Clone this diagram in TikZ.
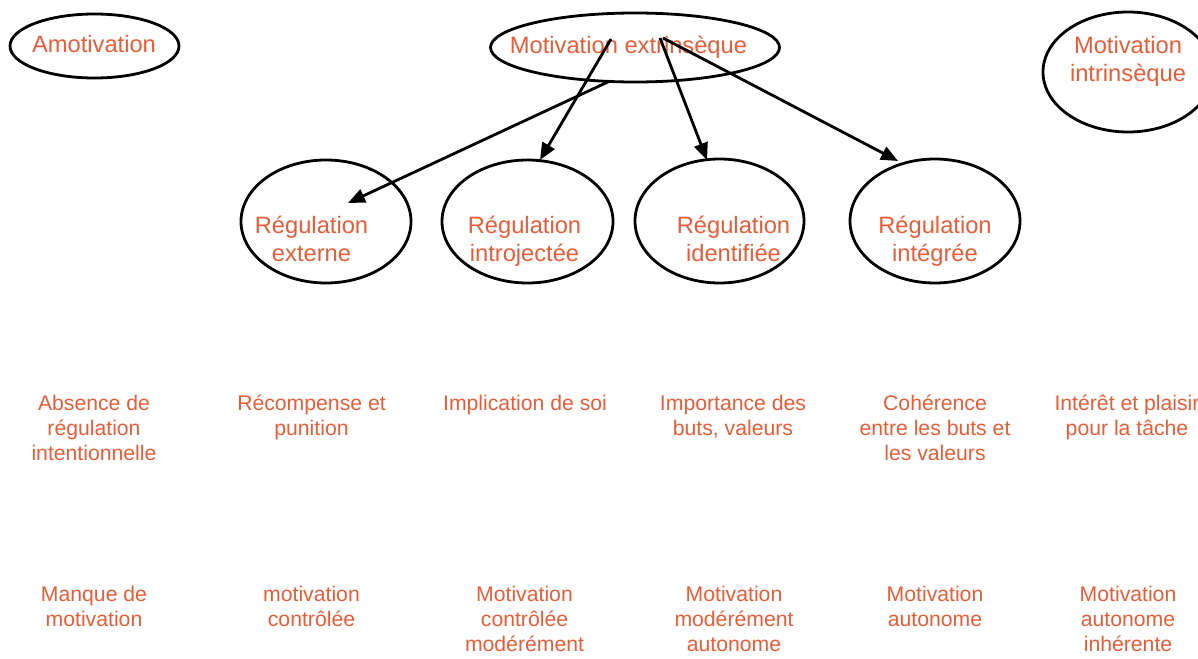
\documentclass[tikz,border=0pt]{standalone}
\usepackage{fontspec}
\setmainfont{Liberation Sans}
\usetikzlibrary{shapes.geometric,arrows.meta}
\definecolor{labelorange}{RGB}{232,93,56}
% stacked, centred lines whose baseline is that of the first line
\newcommand{\stacklines}[1]{\begin{tabular}[t]{@{}c@{}}#1\end{tabular}}
\begin{document}
\begin{tikzpicture}[x=1pt,y=-1pt,
  oval/.style={draw=black,line width=2.8pt,ellipse,inner sep=0pt},
  ovaltext/.style={text=labelorange,inner sep=0pt,anchor=base,
    font=\fontsize{23.7}{28.4}\selectfont},
  rowtext/.style={text=labelorange,inner sep=0pt,anchor=base,
    font=\fontsize{21.2}{25.3}\selectfont},
  link/.style={draw=black,line width=2.8pt,-{Triangle[length=17pt,width=14pt]}}]
\useasboundingbox (0,0) rectangle (1198,658);
\clip (0,0) rectangle (1198,658);

% top-level ovals
\node[oval,minimum width=169pt,minimum height=64pt] (amo) at (94.5,46) {};
\node[oval,minimum width=289pt,minimum height=69pt] (ext) at (635,47.5) {};
\node[oval,minimum width=170pt,minimum height=120pt] (intr) at (1128,72) {};

% regulation ovals
\node[oval,minimum width=170pt,minimum height=123pt] (rext) at (326,221.5) {};
\node[oval,minimum width=171pt,minimum height=123pt] (rint) at (527.5,221.5) {};
\node[oval,minimum width=169pt,minimum height=124pt] (rid) at (719.5,221) {};
\node[oval,minimum width=170pt,minimum height=124pt] (rig) at (935,221) {};

% oval captions
\node[ovaltext] (tamo) at (94,53) {Amotivation};
\node[ovaltext] (text) at (628.5,54) {Motivation extrinsèque};
\node[ovaltext] (tintr) at (1128,53.3) {\stacklines{Motivation\\intrinsèque}};
\node[ovaltext] (trext) at (311.5,233) {\stacklines{Régulation\\externe}};
\node[ovaltext] (trint) at (524.5,233) {\stacklines{Régulation\\introjectée}};
\node[ovaltext] (trid) at (733.5,233) {\stacklines{Régulation\\identifiée}};
\node[ovaltext] (trig) at (935,233) {\stacklines{Régulation\\intégrée}};

% arrow ends
\coordinate (s1) at (610,81);
\coordinate (s2) at (611,39);
\coordinate (s3) at (660,38);
\coordinate (s4) at (663,38);
\coordinate (e1) at (348,203);
\coordinate (e2) at (540,160);
\coordinate (e3) at (707,160);
\coordinate (e4) at (898,161);

\draw[link] (s1) -- (e1);
\draw[link] (s2) -- (e2);
\draw[link] (s3) -- (e3);
\draw[link] (s4) -- (e4);

% regulation descriptions
\node[rowtext] (d1) at (94,410) {\stacklines{Absence de\\régulation\\intentionnelle}};
\node[rowtext] (d2) at (311.5,410) {\stacklines{Récompense et\\punition}};
\node[rowtext] (d3) at (525,410) {\stacklines{Implication de soi}};
\node[rowtext] (d4) at (733,410) {\stacklines{Importance des\\buts, valeurs}};
\node[rowtext] (d5) at (935,410) {\stacklines{Cohérence\\entre les buts et\\les valeurs}};
\node[rowtext] (d6) at (1127,410) {\stacklines{Intérêt et plaisir\\pour la tâche}};

% motivation qualities
\node[rowtext] (q1) at (94,601) {\stacklines{Manque de\\motivation}};
\node[rowtext] (q2) at (311.5,601) {\stacklines{motivation\\contrôlée}};
\node[rowtext] (q3) at (524.5,601) {\stacklines{Motivation\\contrôlée\\modérément}};
\node[rowtext] (q4) at (734,601) {\stacklines{Motivation\\modérément\\autonome}};
\node[rowtext] (q5) at (935,601) {\stacklines{Motivation\\autonome}};
\node[rowtext] (q6) at (1128,601) {\stacklines{Motivation\\autonome\\inhérente}};
\end{tikzpicture}
\end{document}
